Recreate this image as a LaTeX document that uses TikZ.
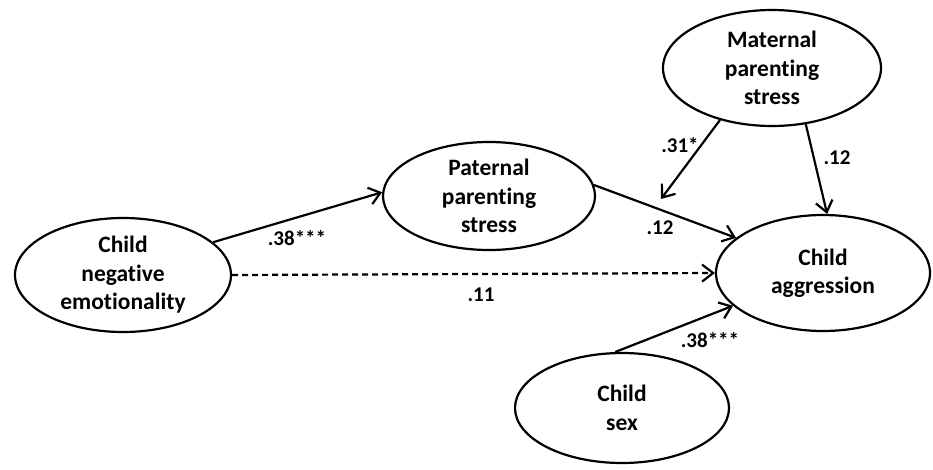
\documentclass[tikz,border=0pt]{standalone}
\usepackage{fontspec}
\setmainfont{Carlito}[Ligatures=NoCommon]
\usetikzlibrary{shapes.geometric,arrows.meta}
\begin{document}
\begin{tikzpicture}[x=1pt,y=-1pt,
  latent/.style={draw,ellipse,line width=2.2pt,inner sep=0pt,align=center,
    font=\fontsize{23.5}{28.5}\selectfont\bfseries},
  path/.style={line width=2.2pt,-{Straight Barb[length=11pt,width=17pt,line width=2.2pt]}},
  coef/.style={font=\fontsize{21}{24}\selectfont\bfseries,inner sep=1pt}]
\useasboundingbox (0,0) rectangle (933,469);
\node[latent,minimum width=216pt,minimum height=114pt] (neg) at (123,275) {Child\\negative\\emotionality};
\node[latent,minimum width=212pt,minimum height=108pt] (pat) at (489,196) {Paternal\\parenting\\stress};
\node[latent,minimum width=218pt,minimum height=116pt] (mat) at (772,68) {Maternal\\parenting\\stress};
\node[latent,minimum width=214pt,minimum height=116pt] (agg) at (823,273) {Child\\aggression};
\node[latent,minimum width=214pt,minimum height=110pt] (sex) at (622,408) {Child\\sex};
\coordinate (mod) at (661,199);
\draw[path] (neg.20) -- (pat.178);
\draw[path] (pat.6) -- (agg.158);
\draw[path,dashed,dash pattern=on 6pt off 4pt] (neg.east) -- (agg.west);
\draw[path] (sex.97) -- (agg.200);
\draw[path] (mat.-59) -- (agg.86);
\draw[path] (mat.225) -- (mod);
\node[coef] (l1) at (297,238) {.38***};
\node[coef] (l2) at (660,228) {.12};
\node[coef] (l3) at (680,145) {.31*};
\node[coef] (l4) at (837,158) {.12};
\node[coef] (l5) at (481,295) {.11};
\node[coef] (l6) at (710,340) {.38***};
\end{tikzpicture}
\end{document}
